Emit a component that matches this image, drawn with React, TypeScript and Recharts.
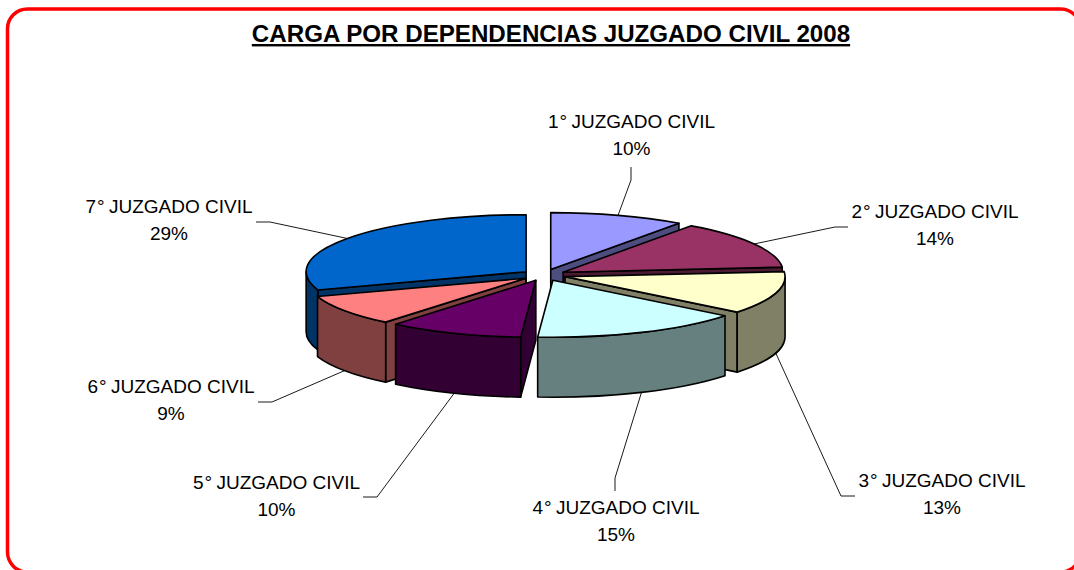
import { Cell, Pie, PieChart } from "recharts";

const CHART_W = 1074;
const CHART_H = 570;

const categories = [
  "1° JUZGADO CIVIL",
  "2° JUZGADO CIVIL",
  "3° JUZGADO CIVIL",
  "4° JUZGADO CIVIL",
  "5° JUZGADO CIVIL",
  "6° JUZGADO CIVIL",
  "7° JUZGADO CIVIL",
];
// printed percentages
const percents = [10, 14, 13, 15, 10, 9, 29];
// share of the ellipse as drawn: the 3D view skews the angles away from the printed numbers
const drawnShares = [9.9, 13.7, 12.1, 15.4, 9.9, 8.8, 30.2];

const topColors = ["#9999FF", "#993366", "#FFFFCC", "#CCFFFF", "#660066", "#FF8080", "#0066CC"];
const sideColors = ["#4D4D80", "#4D1A33", "#808066", "#668080", "#330033", "#804040", "#003366"];

// label centre and the elbow of its leader line
const labelSpots = [
  { x: 631.5, y: 128, from: [631, 167], elbow: [631, 180] },
  { x: 935, y: 218, from: [848, 227], elbow: [835, 227] },
  { x: 942, y: 487, from: [855, 496], elbow: [841, 496] },
  { x: 616, y: 514, from: [615, 491], elbow: [615, 478] },
  { x: 276.5, y: 489, from: [363, 497], elbow: [377, 497] },
  { x: 171, y: 393, from: [258, 402], elbow: [272, 402] },
  { x: 169, y: 213, from: [256, 222], elbow: [270, 222] },
];

const rows = categories.map((name, i) => ({
  name,
  share: drawnShares[i],
  percent: percents[i],
  fill: topColors[i],
  side: sideColors[i],
  spot: labelSpots[i],
}));

// split so the back-left slices paint first, front slices overlap their neighbours' cut faces
const rightRows = rows.slice(0, 4);
const leftRows = rows.slice(4).reverse();
const total = drawnShares.reduce((a, b) => a + b, 0);
const rightSweep = (rightRows.reduce((a, r) => a + r.share, 0) / total) * 360;

const SQUASH = 0.259;
const DEPTH = 60;
const EXPLODE = 22;
const FONT = "'Liberation Sans', Arial, sans-serif";

const rad = (d: number) => (d * Math.PI) / 180;

// clockwise degrees from 12 o'clock, which is how the view is easier to think about
const fromTop = (mathAngle: number) => ((90 - mathAngle) % 360 + 360) % 360;

function apexOf(cx: number, cy: number, midTop: number) {
  return {
    x: cx + EXPLODE * Math.sin(rad(midTop)),
    y: cy - EXPLODE * SQUASH * Math.cos(rad(midTop)),
  };
}

function rimPoint(ax: number, ay: number, r: number, a: number) {
  return { x: ax + r * Math.sin(rad(a)), y: ay - r * SQUASH * Math.cos(rad(a)) };
}

/** exploded 3D pie slice */
function SliceShape(props: any) {
  const { cx, cy, outerRadius: r, startAngle, endAngle, fill, index } = props;
  const side = props.side ?? props.payload?.side;
  const a1 = fromTop(Math.max(startAngle, endAngle));
  let a2 = fromTop(Math.min(startAngle, endAngle));
  if (a2 <= a1) a2 += 360;
  const mid = (a1 + a2) / 2;
  const apex = apexOf(cx, cy, mid);
  const p1 = rimPoint(apex.x, apex.y, r, a1);
  const p2 = rimPoint(apex.x, apex.y, r, a2);
  const ry = r * SQUASH;
  const large = a2 - a1 > 180 ? 1 : 0;

  const face = (p: { x: number; y: number }) =>
    `M${apex.x},${apex.y}L${p.x},${p.y}L${p.x},${p.y + DEPTH}L${apex.x},${apex.y + DEPTH}Z`;

  const wallFrom = Math.max(a1, 90);
  const wallTo = Math.min(a2, 270);
  let wall = null;
  if (wallTo > wallFrom) {
    const w1 = rimPoint(apex.x, apex.y, r, wallFrom);
    const w2 = rimPoint(apex.x, apex.y, r, wallTo);
    wall = `M${w1.x},${w1.y}A${r},${ry} 0 0 1 ${w2.x},${w2.y}L${w2.x},${w2.y + DEPTH}A${r},${ry} 0 0 0 ${w1.x},${w1.y + DEPTH}Z`;
  }

  const showEnd = Math.sin(rad(a2)) > 0;
  const showStart = Math.sin(rad(a1)) < 0;

  return (
    <g key={index} stroke="#000" strokeWidth={1.6} strokeLinejoin="round">
      {showEnd && <path d={face(p2)} fill={side} />}
      {showStart && <path d={face(p1)} fill={side} />}
      {wall && <path d={wall} fill={side} />}
      <path
        d={`M${apex.x},${apex.y}L${p1.x},${p1.y}A${r},${ry} 0 ${large} 1 ${p2.x},${p2.y}Z`}
        fill={fill}
      />
    </g>
  );
}

function SliceLabel(props: any) {
  const { cx, cy, outerRadius: r, midAngle, payload } = props;
  const row = payload?.spot ? payload : props;
  const spot = row.spot;
  const mid = fromTop(midAngle);
  const apex = apexOf(cx, cy, mid);
  const rim = rimPoint(apex.x, apex.y, r, mid);
  const front = mid > 90 && mid < 270;
  const end = { x: rim.x, y: rim.y + (front ? DEPTH : 0) };
  return (
    <g>
      <polyline
        points={`${spot.from[0]},${spot.from[1]} ${spot.elbow[0]},${spot.elbow[1]} ${end.x},${end.y}`}
        fill="none"
        stroke="#000"
        strokeWidth={0.9}
      />
      <text x={spot.x} y={spot.y} textAnchor="middle" fontFamily={FONT} fontSize={19} fill="#000">
        <tspan x={spot.x} dy={0}>{row.name.slice(0, 1)}</tspan>
        <tspan dx={1}>°</tspan>
        <tspan dx={-1}>{row.name.slice(2)}</tspan>
        <tspan x={spot.x} dy={26.5}>{`${row.percent}%`}</tspan>
      </text>
    </g>
  );
}

export default function App() {
  return (
    <div
      style={{
        position: "absolute",
        left: 0,
        top: 0,
        width: CHART_W,
        height: CHART_H,
        overflow: "hidden",
        background: "#fff",
      }}
    >
      <PieChart width={CHART_W} height={CHART_H} margin={{ top: 0, right: 0, bottom: 0, left: 0 }}>
        <rect x={7.5} y={9} width={1073} height={563} rx={20} ry={20} fill="none" stroke="#FF0000" strokeWidth={3.5} />
        <text
          x={551}
          y={42}
          textAnchor="middle"
          fontFamily={FONT}
          fontWeight="bold"
          fontSize={24.15}
          textDecoration="underline"
          fill="#000"
        >
          CARGA POR DEPENDENCIAS JUZGADO CIVIL 2008
        </text>
        <Pie
          data={leftRows}
          dataKey="share"
          nameKey="name"
          cx={544}
          cy={275}
          outerRadius={220}
          startAngle={90}
          endAngle={90 + (360 - rightSweep)}
          stroke="none"
          shape={SliceShape}
          label={SliceLabel}
          labelLine={false}
          isAnimationActive={false}
        >
          {leftRows.map((r) => (
            <Cell key={r.name} fill={r.fill} />
          ))}
        </Pie>
        <Pie
          data={rightRows}
          dataKey="share"
          nameKey="name"
          cx={544}
          cy={275}
          outerRadius={220}
          startAngle={90}
          endAngle={90 - rightSweep}
          stroke="none"
          shape={SliceShape}
          label={SliceLabel}
          labelLine={false}
          isAnimationActive={false}
        >
          {rightRows.map((r) => (
            <Cell key={r.name} fill={r.fill} />
          ))}
        </Pie>
      </PieChart>
    </div>
  );
}
